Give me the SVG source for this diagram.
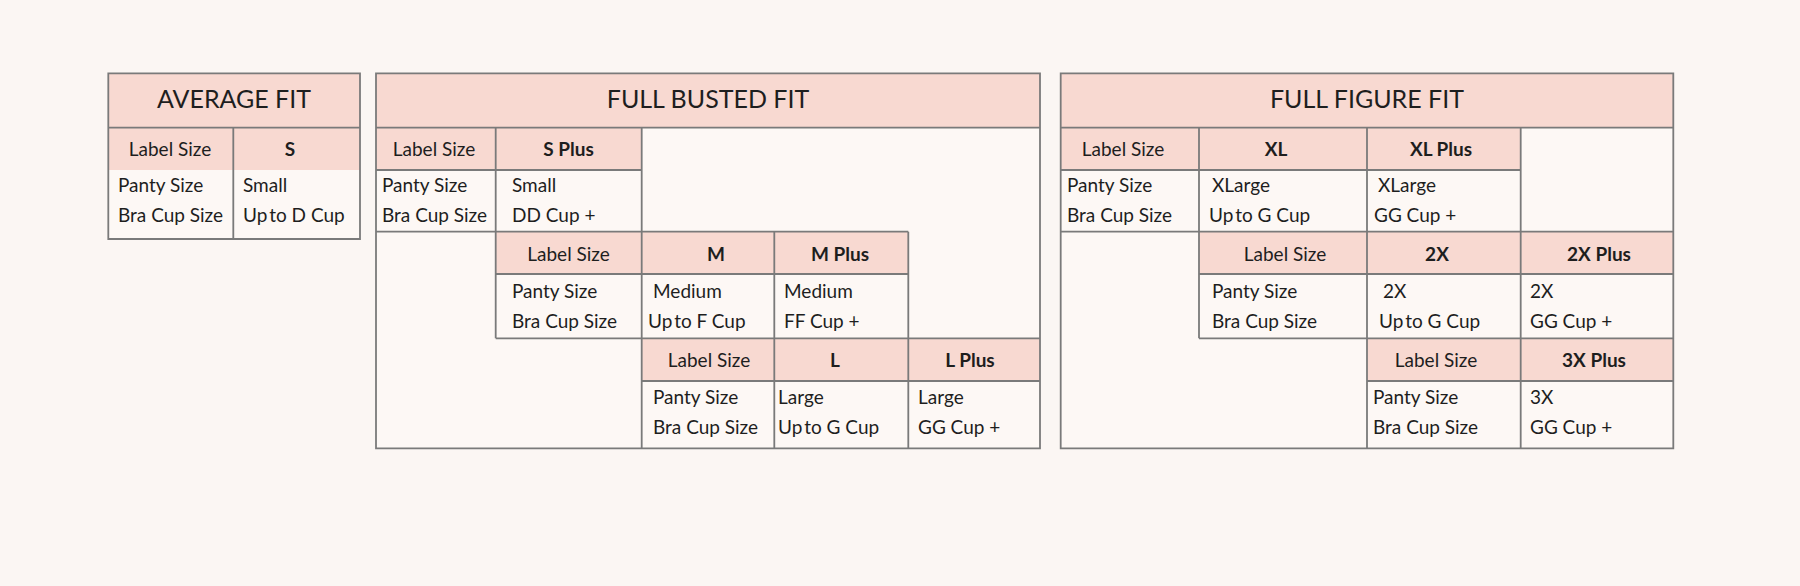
<svg xmlns="http://www.w3.org/2000/svg" width="1800" height="586" viewBox="0 0 1800 586">
<style>
.bg{fill:#FBF6F3}
.cell{fill:#FDF8F5}
.pink{fill:#F8D9D1}
.ln{stroke:#7A7A7A;stroke-width:1.8;fill:none}
text{font-family:Lato,"Noto Sans","Liberation Sans",sans-serif;fill:#1E1E1E;font-size:19px}
.h{font-size:25px;text-anchor:middle}
.c{text-anchor:middle}
.b{font-weight:bold;text-anchor:middle}
.u{word-spacing:-3px}
</style>
<rect class="bg" x="0" y="0" width="1800" height="586"/>

<g id="average-fit">
<rect class="cell" x="108.3" y="73.3" width="251.7" height="165.7"/>
<rect class="pink" x="108.3" y="73.3" width="251.7" height="96.7"/>
<path class="ln" d="M108.3 73.3H360V239H108.3Z M108.3 127.7H360 M233.3 127.7V239"/>
<text class="h" x="234" y="108">AVERAGE FIT</text>
<text class="c" x="170" y="156">Label Size</text>
<text class="b" x="290" y="156">S</text>
<text x="118" y="192">Panty Size</text>
<text x="118" y="222">Bra Cup Size</text>
<text x="243" y="192">Small</text>
<text x="243" y="222"><tspan class="u">Up to</tspan> D Cup</text>
</g>

<g id="full-busted-fit">
<rect class="cell" x="376" y="73.3" width="664" height="375"/>
<rect class="pink" x="376" y="73.3" width="664" height="54.4"/>
<rect class="pink" x="376" y="127.7" width="265.7" height="42.3"/>
<rect class="pink" x="495.7" y="231.7" width="412.6" height="42.3"/>
<rect class="pink" x="641.7" y="338.3" width="398.3" height="42.7"/>
<path class="ln" d="M376 73.3H1040V448.3H376Z M376 127.7H1040 M376 170H641.7 M376 231.7H908.3 M495.7 274H908.3 M495.7 338.3H1040 M641.7 381H1040 M495.7 127.7V338.3 M641.7 127.7V448.3 M774.3 231.7V448.3 M908.3 231.7V448.3"/>
<text class="h" x="708" y="108">FULL BUSTED FIT</text>
<text class="c" x="434" y="156">Label Size</text>
<text class="b" x="568.5" y="156">S Plus</text>
<text x="382" y="192">Panty Size</text>
<text x="382" y="222">Bra Cup Size</text>
<text x="512" y="192">Small</text>
<text x="512" y="222">DD Cup +</text>
<text class="c" x="568.5" y="261">Label Size</text>
<text class="b" x="716" y="261">M</text>
<text class="b" x="840" y="261">M Plus</text>
<text x="512" y="298">Panty Size</text>
<text x="512" y="328">Bra Cup Size</text>
<text x="653" y="298">Medium</text>
<text x="648" y="328"><tspan class="u">Up to</tspan> F Cup</text>
<text x="784" y="298">Medium</text>
<text x="784" y="328">FF Cup +</text>
<text class="c" x="709" y="367">Label Size</text>
<text class="b" x="835" y="367">L</text>
<text class="b" x="970" y="367">L Plus</text>
<text x="653" y="404">Panty Size</text>
<text x="653" y="434">Bra Cup Size</text>
<text x="778" y="404">Large</text>
<text x="778" y="434"><tspan class="u">Up to</tspan> G Cup</text>
<text x="918" y="404">Large</text>
<text x="918" y="434">GG Cup +</text>
</g>

<g id="full-figure-fit">
<rect class="cell" x="1060.7" y="73.3" width="612.6" height="375"/>
<rect class="pink" x="1060.7" y="73.3" width="612.6" height="54.4"/>
<rect class="pink" x="1060.7" y="127.7" width="460" height="42.3"/>
<rect class="pink" x="1199" y="231.7" width="474.3" height="42.3"/>
<rect class="pink" x="1367" y="338.3" width="306.3" height="42.7"/>
<path class="ln" d="M1060.7 73.3H1673.3V448.3H1060.7Z M1060.7 127.7H1673.3 M1060.7 170H1520.7 M1060.7 231.7H1673.3 M1199 274H1673.3 M1199 338.3H1673.3 M1367 381H1673.3 M1199 127.7V338.3 M1367 127.7V448.3 M1520.7 127.7V448.3"/>
<text class="h" x="1367" y="108">FULL FIGURE FIT</text>
<text class="c" x="1123" y="156">Label Size</text>
<text class="b" x="1276" y="156">XL</text>
<text class="b" x="1441" y="156">XL Plus</text>
<text x="1067" y="192">Panty Size</text>
<text x="1067" y="222">Bra Cup Size</text>
<text x="1212" y="192">XLarge</text>
<text x="1209" y="222"><tspan class="u">Up to</tspan> G Cup</text>
<text x="1378" y="192">XLarge</text>
<text x="1374" y="222">GG Cup +</text>
<text class="c" x="1285" y="261">Label Size</text>
<text class="b" x="1437" y="261">2X</text>
<text class="b" x="1599" y="261">2X Plus</text>
<text x="1212" y="298">Panty Size</text>
<text x="1212" y="328">Bra Cup Size</text>
<text x="1383" y="298">2X</text>
<text x="1379" y="328"><tspan class="u">Up to</tspan> G Cup</text>
<text x="1530" y="298">2X</text>
<text x="1530" y="328">GG Cup +</text>
<text class="c" x="1436" y="367">Label Size</text>
<text class="b" x="1594" y="367">3X Plus</text>
<text x="1373" y="404">Panty Size</text>
<text x="1373" y="434">Bra Cup Size</text>
<text x="1530" y="404">3X</text>
<text x="1530" y="434">GG Cup +</text>
</g>
</svg>
